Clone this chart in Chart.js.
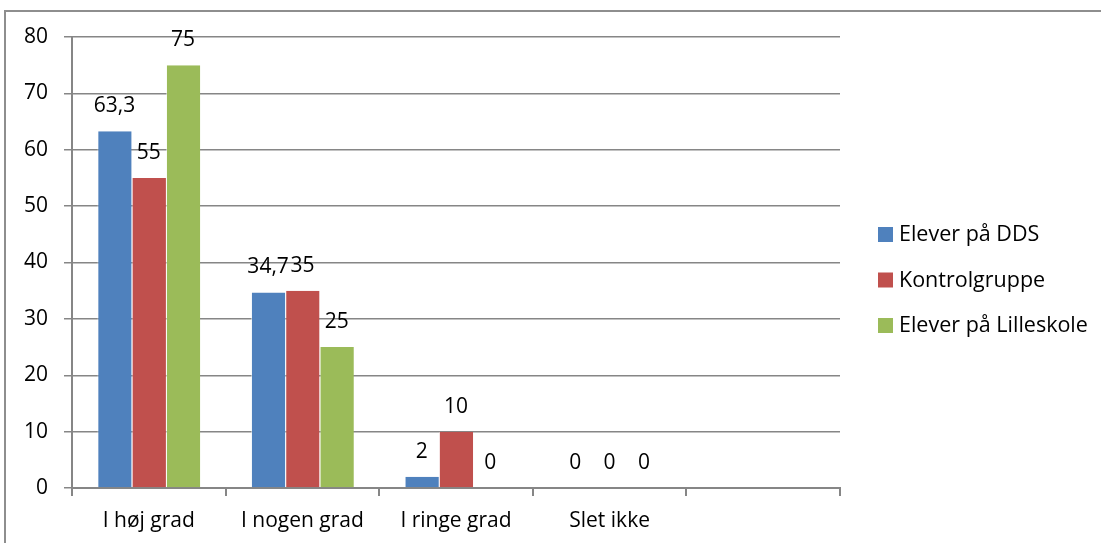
<!DOCTYPE html>
<html>
<head>
<meta charset="utf-8">
<script src="https://cdn.jsdelivr.net/npm/chart.js@4/dist/chart.umd.min.js"></script>
<style>
    body { margin: 0; background: #fff; }
    #frame {
        position: absolute; left: 4px; top: 10px; width: 1200px; height: 600px;
        border-top: 2px solid #8e8e8e; border-left: 2px solid #8e8e8e;
    }
    #wrap { position: absolute; left: 0; top: 0; width: 1101px; height: 543px; }
</style>
</head>
<body>
<div id="frame"></div>
<div id="wrap"><canvas id="chart"></canvas></div>
<script>
const categories = ['I høj grad', 'I nogen grad', 'I ringe grad', 'Slet ikke', ''];
const seriesNames = ['Elever på DDS', 'Kontrolgruppe', 'Elever på Lilleskole'];
const eleverDDS = [63.3, 34.7, 2, 0, null];
const kontrolgruppe = [55, 35, 10, 0, null];
const eleverLilleskole = [75, 25, 0, 0, null];
const yTicks = [0, 10, 20, 30, 40, 50, 60, 70, 80];

const colors = ['#4F81BD', '#C0504D', '#9BBB59'];
const fontFamily = '"Open Sans", "Liberation Sans", sans-serif';
const axisGray = '#868686';

// value labels above each bar, comma as decimal separator
const valueLabels = {
    id: 'valueLabels',
    afterDatasetsDraw(chart) {
        const ctx = chart.ctx;
        ctx.save();
        ctx.font = '21px ' + fontFamily;
        ctx.fillStyle = '#000';
        ctx.textAlign = 'center';
        ctx.textBaseline = 'middle';
        chart.data.datasets.forEach((ds, di) => {
            chart.getDatasetMeta(di).data.forEach((bar, i) => {
                const v = ds.data[i];
                if (v === null) return;
                ctx.fillText(String(v).replace('.', ','), bar.x, bar.y - 25);
            });
        });
        ctx.restore();
    }
};

// legend on the right, like the Excel one
const sideLegend = {
    id: 'sideLegend',
    afterDraw(chart) {
        const ctx = chart.ctx;
        const area = chart.chartArea;
        const x0 = area.right + 38;
        const midY = (area.top + area.bottom) / 2 + 17;
        ctx.save();
        ctx.font = '21.5px ' + fontFamily;
        ctx.textBaseline = 'middle';
        chart.data.datasets.forEach((ds, i) => {
            const y = midY + (i - 1) * 45.5;
            ctx.fillStyle = ds.backgroundColor;
            ctx.fillRect(x0, y - 7, 15, 15);
            ctx.fillStyle = '#000';
            ctx.fillText(ds.label, x0 + 21, y + 1);
        });
        ctx.restore();
    }
};

const ctx = document.getElementById('chart');

new Chart(ctx, {
    type: 'bar',
    data: {
        labels: categories,
        datasets: [
            { label: seriesNames[0], data: eleverDDS, backgroundColor: colors[0] },
            { label: seriesNames[1], data: kontrolgruppe, backgroundColor: colors[1] },
            { label: seriesNames[2], data: eleverLilleskole, backgroundColor: colors[2] }
        ]
    },
    options: {
        responsive: true,
        maintainAspectRatio: false,
        animation: false,
        datasets: {
            bar: {
                categoryPercentage: 0.67,
                barPercentage: 1,
                borderWidth: { left: 1, right: 0, top: 0, bottom: 0 },
                borderColor: 'rgba(255,255,255,0.5)',
                borderSkipped: false
            }
        },
        layout: { padding: { left: 0, right: 261, top: 37, bottom: 0 } },
        plugins: {
            legend: { display: false },
            title: { display: false },
            tooltip: { enabled: false }
        },
        scales: {
            x: {
                grid: {
                    offset: true,
                    drawOnChartArea: false,
                    drawTicks: true,
                    tickLength: 8,
                    color: axisGray,
                    lineWidth: 2
                },
                border: { color: axisGray, width: 2 },
                ticks: {
                    color: '#000',
                    font: { family: fontFamily, size: 21 },
                    padding: 12,
                    maxRotation: 0
                },
                afterFit: (scale) => { scale.height = 55; }
            },
            y: {
                min: 0,
                max: 80,
                afterBuildTicks: (scale) => { scale.ticks = yTicks.map(v => ({ value: v })); },
                grid: {
                    color: axisGray,
                    lineWidth: 1.5,
                    tickLength: 8
                },
                border: { color: axisGray, width: 2 },
                ticks: {
                    color: '#000',
                    font: { family: fontFamily, size: 21 },
                    padding: 16
                },
                afterFit: (scale) => { scale.width = 72; }
            }
        }
    },
    plugins: [valueLabels, sideLegend]
});
</script>
</body>
</html>
